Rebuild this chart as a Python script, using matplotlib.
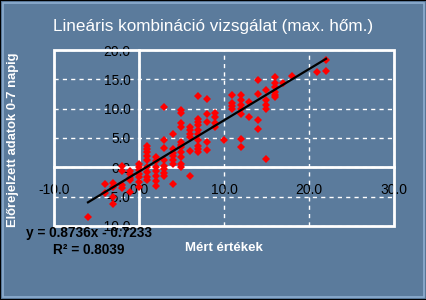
import numpy as np
import matplotlib
matplotlib.use("Agg")
import matplotlib.pyplot as plt
import matplotlib.patheffects as pe
from matplotlib.patches import Rectangle

plt.rcParams['font.family'] = ['Liberation Sans', 'DejaVu Sans']

meas = {
    -6: [-8.5],
    -4: [-2.8, -4.3],
    -3: [-2.7, -3.4, -5.0, -6.2],
    -2: [0.3, -0.7, -3.0, -3.6],
    -1: [-0.7, -1.1, -1.8, -2.2, -4.2],
    0: [0.6, 0.0, -0.5, -1.1, -1.6, -2.5, -3.3],
    1: [3.7, 3.2, 2.6, 2.0, 1.3, 0.1, -0.8, -1.6, -2.2],
    2: [1.8, 1.0, 0.0, -0.6, -1.5, -2.3, -3.2],
    3: [10.3, 4.7, 3.3, 1.2, 0.3, -0.3, -0.9, -1.5],
    4: [5.7, 3.2, 2.5, 1.9, 1.2, 0.6, -2.9],
    5: [9.8, 9.2, 7.6, 6.9, 4.4, 3.8, 3.5, 2.6, 1.8, 0.6, 0.0],
    6: [6.9, 6.3, 5.7, 5.1, 2.7, -1.5],
    7: [12.2, 8.3, 7.7, 7.2, 6.4, 5.6, 4.6, 3.7, 3.1, 2.6],
    8: [11.6, 9.1, 7.7, 4.4, 2.9],
    9: [9.3, 8.6, 7.6, 6.9],
    10: [4.6],
    11: [12.3, 10.9, 10.4, 10.0],
    12: [12.3, 11.4, 10.6, 10.0, 9.1, 4.9, 3.4],
    13: [11.1, 8.6],
    14: [14.9, 12.5, 8.1, 6.6],
    15: [13.1, 11.4, 10.6, 10.0, 1.4],
    16: [15.4, 14.3, 13.7, 12.8, 12.3, 12.0],
    17: [14.4],
    18: [15.5],
    21: [16.2],
    22: [18.3, 16.4],
}
x_vals = np.array([k for k, v in meas.items() for _ in v], dtype=float)
y_vals = np.array([y for v in meas.values() for y in v])

slope = 0.8736
intercept = -0.7233
r2 = 0.8039

x_ticks = [-10, 0, 10, 20, 30]
y_ticks = [-10, -5, 0, 5, 10, 15, 20]

bg = '#5b7b9c'
W, H = 427, 300
fig = plt.figure(figsize=(W / 100, H / 100), dpi=100, facecolor=bg)

# window-like border
fig.patches.append(Rectangle((0, 0), 1, 1, transform=fig.transFigure,
                             fill=False, edgecolor='black', lw=1.5))
fig.patches.append(Rectangle((3 / W, 3 / H), 1 - 6 / W, 1 - 6 / H, transform=fig.transFigure,
                             fill=False, edgecolor='#8eaed0', lw=1.2))

ax = fig.add_axes([54 / W, 1 - 226 / H, 340 / W, 176 / H])
ax.set_facecolor('none')
ax.set_xlim(-10, 30)
ax.set_ylim(-10, 20)
ax.set_xticks(x_ticks)
ax.set_yticks(y_ticks)

shadow = [pe.withSimplePatchShadow(offset=(0.8, -0.8), shadow_rgbFace='black', alpha=1)]
ax.set_xticklabels(['%.1f' % t for t in x_ticks])
ax.set_yticklabels(['%.1f' % t for t in y_ticks])
for lab in ax.get_xticklabels() + ax.get_yticklabels():
    lab.set_fontweight('bold')
    lab.set_fontsize(9)
    lab.set_color('white')
    lab.set_path_effects(shadow)
ax.tick_params(axis='x', length=0, pad=11)
ax.tick_params(axis='y', length=0, pad=6)

ax.spines['left'].set_position(('data', 0))
ax.spines['bottom'].set_position(('data', 0))
for s in ['left', 'bottom']:
    ax.spines[s].set_color('white')
    ax.spines[s].set_linewidth(2)
ax.spines['top'].set_visible(False)
ax.spines['right'].set_visible(False)
ax.add_patch(Rectangle((0, 0), 1, 1, transform=ax.transAxes, fill=False,
                       edgecolor='white', lw=2, clip_on=False, zorder=3))

ax.grid(True, color='white', linestyle=(0, (3, 3)), linewidth=1)
ax.set_axisbelow(True)

ax.plot(x_vals, y_vals, 'D', color='red', markersize=4.0, markeredgewidth=0, zorder=4)
xl = np.array([x_vals.min(), x_vals.max()])
ax.plot(xl, slope * xl + intercept, color='black', lw=1.6, zorder=5)

fig.text(213 / W, 1 - 26 / H, 'Lineáris kombináció vizsgálat (max. hőm.)',
         ha='center', va='center', color='white', fontsize=12.3)
fig.text(13 / W, 1 - 140 / H, 'Előrejelzett adatok 0-7 napig', rotation=90,
         ha='center', va='center', color='white', fontsize=9.4, fontweight='bold')
fig.text(224 / W, 1 - 248 / H, 'Mért értékek', ha='center', va='center',
         color='white', fontsize=9.5, fontweight='bold')
fig.text(26 / W, 1 - 233 / H, 'y = %.4fx - %.4f' % (slope, -intercept),
         ha='left', va='center', color='black', fontsize=9.8, fontweight='bold')
fig.text(53 / W, 1 - 250 / H, 'R² = %.4f' % r2,
         ha='left', va='center', color='black', fontsize=9.8, fontweight='bold')

fig.savefig('out.png', dpi=100, facecolor=bg)
